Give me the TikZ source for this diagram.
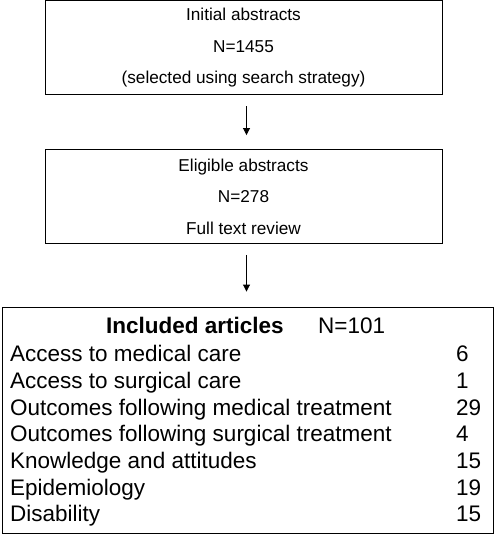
\documentclass[tikz,border=0pt]{standalone}
\usepackage{fontspec}
\setmainfont{Liberation Sans}
\usetikzlibrary{arrows.meta,positioning}

\begin{document}
\begin{tikzpicture}[x=1pt, y=-1pt,
  sbox/.style={draw, line width=0.9pt, minimum width=397pt, minimum height=94pt,
               align=center, inner sep=0pt, font=\fontsize{17.2}{31.5}\selectfont},
  item/.style={anchor=base west, inner sep=0pt, font=\fontsize{22.5}{26}\selectfont},
  arrow/.style={-{Triangle[length=7pt,width=7pt]}, line width=0.9pt}
]
\useasboundingbox (0,0) rectangle (500,538);
\node[sbox] (init) at (243.5,47.8) {Initial abstracts\\ N=1455\\ (selected using search strategy)};
\node[sbox] (elig) at (243.5,196.5) {Eligible abstracts\\ N=278\\ Full text review};
\node[draw, line width=0.9pt, minimum width=491pt, minimum height=226pt] (incl) at (247.5,420) {};

\node[item, font=\fontsize{22.5}{26}\selectfont\bfseries] (head) at (106,333) {Included articles};
\node[item] (headn) at (318,333) {N=101};
\node[item] (medacc) at (10,361) {Access to medical care};
\node[item] (suracc) at (10,388) {Access to surgical care};
\node[item] (medout) at (10,415) {Outcomes following medical treatment};
\node[item] (surout) at (10,441.5) {Outcomes following surgical treatment};
\node[item] (know) at (10,468) {Knowledge and attitudes};
\node[item] (epid) at (10,495) {Epidemiology};
\node[item] (disab) at (10,521.5) {Disability};
\node[item] (nmedacc) at (456,361) {6};
\node[item] (nsuracc) at (456,388) {1};
\node[item] (nmedout) at (456,415) {29};
\node[item] (nsurout) at (456,441.5) {4};
\node[item] (nknow) at (456,468) {15};
\node[item] (nepid) at (456,495) {19};
\node[item] (ndisab) at (456,521.5) {15};

\draw[arrow] ([xshift=3pt,yshift=-11pt]init.south) -- ([xshift=3pt,yshift=14pt]elig.north);
\draw[arrow] ([xshift=3pt,yshift=-11pt]elig.south) -- ([xshift=-1pt,yshift=15pt]incl.north);
\end{tikzpicture}
\end{document}
